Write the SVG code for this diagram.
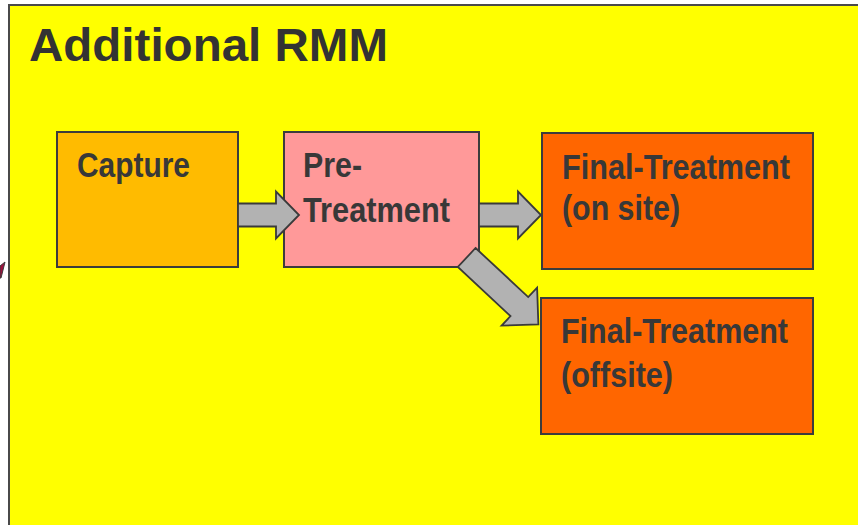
<svg xmlns="http://www.w3.org/2000/svg" width="858" height="525" viewBox="0 0 858 525">
<style>
.lbl{font-family:"Liberation Sans",Arial,sans-serif;font-weight:bold;font-size:35px;fill:#383838}
.title{font-family:"Liberation Sans",Arial,sans-serif;font-weight:bold;font-size:47px;fill:#333333}
.box{stroke:#3c3c3c;stroke-width:2}
.arrow{fill:#b2b2b2;stroke:#3a3a3a;stroke-width:1.8;stroke-linejoin:miter}
</style>
<rect x="0" y="0" width="858" height="525" fill="#ffffff"/>
<polygon points="0,266 5,262 1,278 0,278" fill="#9e0f3c" stroke="#3a3a3a" stroke-width="1"/>
<g id="container">
<rect x="9" y="5" width="860" height="530" fill="#ffff00" stroke="#4a4a4a" stroke-width="2"/>
<text class="title" x="29" y="61" textLength="359" lengthAdjust="spacingAndGlyphs">Additional RMM</text>
</g>
<g id="capture">
<rect class="box" x="57" y="132" width="181" height="135" fill="#ffbb00"/>
<text class="lbl" x="77" y="177" textLength="113" lengthAdjust="spacingAndGlyphs">Capture</text>
</g>
<g id="pretreatment">
<rect class="box" x="284" y="132" width="195" height="135" fill="#ff9999"/>
<text class="lbl" x="303" y="177" textLength="59" lengthAdjust="spacingAndGlyphs">Pre-</text>
<text class="lbl" x="303" y="222" textLength="147" lengthAdjust="spacingAndGlyphs">Treatment</text>
</g>
<g id="final-onsite">
<rect class="box" x="542" y="133" width="271" height="136" fill="#ff6600"/>
<text class="lbl" x="562" y="179" textLength="228" lengthAdjust="spacingAndGlyphs">Final-Treatment</text>
<text class="lbl" x="562" y="220" textLength="118" lengthAdjust="spacingAndGlyphs">(on site)</text>
</g>
<g id="final-offsite">
<rect class="box" x="541" y="298" width="272" height="136" fill="#ff6600"/>
<text class="lbl" x="561" y="343" textLength="227" lengthAdjust="spacingAndGlyphs">Final-Treatment</text>
<text class="lbl" x="561" y="387" textLength="112" lengthAdjust="spacingAndGlyphs">(offsite)</text>
</g>
<g id="connectors">
<polygon class="arrow" points="238,203.5 276,203.5 276,191.5 299,215 276,238.5 276,226.5 238,226.5"/>
<polygon class="arrow" points="479,203.5 518,203.5 518,191.5 541,215 518,238.5 518,226.5 479,226.5"/>
<polygon class="arrow" transform="translate(466.7,257.5) rotate(43)" points="0,-13 72,-13 72,-26 98,0 72,26 72,13 0,13"/>
</g>
</svg>
